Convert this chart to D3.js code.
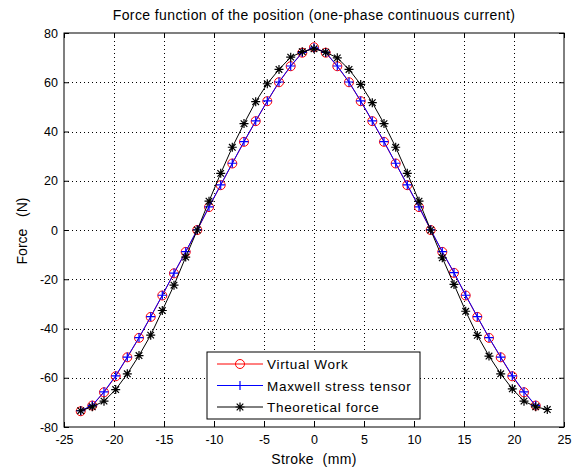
<!DOCTYPE html>
<html lang="en">
<head>
  <meta charset="UTF-8" />
  <title>Force function of the position</title>
  <script src="https://d3js.org/d3.v7.min.js"></script>
  <style>
    body { margin: 0; background: #fff; }
    text { font-family: "Liberation Sans", Arial, sans-serif; }
  </style>
</head>
<body>
  <svg id="chart" width="581" height="469"></svg>

  <script>
    // stroke positions (mm)
    const strokeVW = [-23.33, -22.17, -21.0, -19.83, -18.67, -17.5, -16.33, -15.17, -14.0, -12.83,
      -11.67, -10.5, -9.33, -8.17, -7.0, -5.83, -4.67, -3.5, -2.33, -1.17,
      0, 1.17, 2.33, 3.5, 4.67, 5.83, 7.0, 8.17, 9.33, 10.5,
      11.67, 12.83, 14.0, 15.17, 16.33, 17.5, 18.67, 19.83, 21.0, 22.17];
    const strokeTh = strokeVW.concat([23.33]);

    // forces (N)
    const virtualWork = [-73.6, -71.3, -65.9, -59.4, -51.7, -43.8, -35.3, -26.6, -17.6, -8.9,
      0, 9.3, 18.2, 27.0, 35.8, 44.2, 52.3, 60.0, 66.5, 72.0,
      74.2, 72.0, 66.5, 60.0, 52.3, 44.2, 35.8, 27.0, 18.2, 9.3,
      0, -8.9, -17.4, -26.6, -35.3, -43.8, -51.7, -59.4, -65.9, -71.3];
    const maxwell = [-73.4, -71.2, -65.7, -59.2, -51.6, -43.7, -35.2, -26.5, -17.5, -8.8,
      0.1, 9.4, 18.3, 27.1, 35.9, 44.3, 52.4, 60.1, 66.6, 72.1,
      74.0, 72.1, 66.6, 60.1, 52.4, 44.3, 35.9, 27.1, 18.3, 9.4,
      0.1, -8.8, -17.3, -26.5, -35.2, -43.7, -51.6, -59.2, -65.7, -71.2];
    const theoretical = [-73.4, -71.8, -69.5, -64.8, -58.4, -51.0, -42.7, -32.7, -22.4, -11.0,
      0, 11.7, 23.0, 33.6, 43.2, 52.1, 59.4, 65.2, 70.2, 72.4,
      73.6, 72.2, 69.9, 65.2, 59.1, 51.7, 43.2, 33.6, 23.0, 11.7,
      0, -11.3, -22.1, -33.0, -42.8, -51.2, -58.4, -64.5, -69.5, -71.8, -72.9];

    const xTicks = [-25, -20, -15, -10, -5, 0, 5, 10, 15, 20, 25];
    const yTicks = [-80, -60, -40, -20, 0, 20, 40, 60, 80];
    const seriesNames = ["Virtual Work", "Maxwell stress tensor", "Theoretical force"];

    const margin = { left: 64, right: 17, top: 33, bottom: 42 };
    const width = 581, height = 469;

    const svg = d3.select("#chart");

    const x = d3.scaleLinear().domain([-25, 25]).range([margin.left, width - margin.right]);
    const y = d3.scaleLinear().domain([-80, 80]).range([height - margin.bottom, margin.top]);

    // grid
    const grid = svg.append("g")
      .attr("stroke", "#000")
      .attr("stroke-width", 1)
      .attr("stroke-dasharray", "1,3")
      .attr("shape-rendering", "crispEdges");
    grid.selectAll("line.vx").data(xTicks.slice(1, -1)).join("line")
      .attr("x1", d => Math.round(x(d)) + 0.5).attr("x2", d => Math.round(x(d)) + 0.5)
      .attr("y1", y(80)).attr("y2", y(-80));
    grid.selectAll("line.hy").data(yTicks.slice(1, -1)).join("line")
      .attr("class", "hy")
      .attr("y1", d => Math.round(y(d)) + 0.5).attr("y2", d => Math.round(y(d)) + 0.5)
      .attr("x1", x(-25)).attr("x2", x(25));

    // axes (MATLAB box with inward ticks)
    const fmt = d => String(d);
    function styleAxis(g) {
      g.select(".domain").remove();
      g.selectAll("line").attr("stroke", "#000");
      g.selectAll("text").attr("fill", "#000").attr("font-size", 12.5);
    }
    svg.append("g").attr("transform", `translate(0,${y(-80)})`)
      .call(d3.axisBottom(x).tickValues(xTicks).tickFormat(fmt).tickSizeInner(-5).tickSizeOuter(0).tickPadding(8))
      .call(styleAxis);
    svg.append("g").attr("transform", `translate(0,${y(80)})`)
      .call(d3.axisTop(x).tickValues(xTicks).tickSizeInner(-5).tickSizeOuter(0).tickFormat(""))
      .call(styleAxis);
    svg.append("g").attr("transform", `translate(${x(-25)},0)`)
      .call(d3.axisLeft(y).tickValues(yTicks).tickFormat(fmt).tickSizeInner(-5).tickSizeOuter(0).tickPadding(6))
      .call(styleAxis);
    svg.append("g").attr("transform", `translate(${x(25)},0)`)
      .call(d3.axisRight(y).tickValues(yTicks).tickSizeInner(-5).tickSizeOuter(0).tickFormat(""))
      .call(styleAxis);

    svg.append("rect")
      .attr("x", x(-25)).attr("y", y(80))
      .attr("width", x(25) - x(-25)).attr("height", y(-80) - y(80))
      .attr("fill", "none").attr("stroke", "#000");

    const line = d3.line().x(d => x(d[0])).y(d => y(d[1]));
    const vwPts = strokeVW.map((s, i) => [s, virtualWork[i]]);
    const mxPts = strokeVW.map((s, i) => [s, maxwell[i]]);
    const thPts = strokeTh.map((s, i) => [s, theoretical[i]]);

    // marker painters
    function circleMark(g, color) {
      g.append("circle").attr("r", 4.5).attr("fill", "none").attr("stroke", color).attr("stroke-width", 1);
    }
    function plusMark(g, color) {
      g.append("path").attr("d", "M-4.5,0H4.5M0,-4.5V4.5").attr("stroke", color).attr("stroke-width", 1.2);
    }
    function starMark(g, color) {
      g.append("path").attr("d", "M-4.5,0H4.5M0,-4.5V4.5M-3.3,-3.3L3.3,3.3M-3.3,3.3L3.3,-3.3")
        .attr("stroke", color).attr("stroke-width", 1.2);
    }

    const series = [
      { pts: vwPts, color: "#ff0000", mark: circleMark },
      { pts: mxPts, color: "#0000ff", mark: plusMark },
      { pts: thPts, color: "#000000", mark: starMark }
    ];

    series.forEach(s => {
      svg.append("path").datum(s.pts)
        .attr("d", line).attr("fill", "none")
        .attr("stroke", s.color).attr("stroke-width", 1);
      svg.append("g").selectAll("g").data(s.pts).join("g")
        .attr("transform", d => `translate(${x(d[0])},${y(d[1])})`)
        .each(function () { s.mark(d3.select(this), s.color); });
    });

    // title and labels
    svg.append("text").attr("x", (x(-25) + x(25)) / 2).attr("y", 20)
      .attr("text-anchor", "middle").attr("font-size", 14)
      .attr("letter-spacing", 0.4)
      .text("Force function of the position (one-phase continuous current)");
    svg.append("text").attr("x", (x(-25) + x(25)) / 2).attr("y", 464)
      .attr("text-anchor", "middle").attr("font-size", 14)
      .attr("letter-spacing", 0.4)
      .attr("xml:space", "preserve")
      .text("Stroke  (mm)");
    svg.append("text")
      .attr("transform", `translate(27,${(y(80) + y(-80)) / 2 + 1}) rotate(-90)`)
      .attr("text-anchor", "middle").attr("font-size", 14)
      .attr("xml:space", "preserve")
      .text("Force   (N)");

    // legend
    const lg = svg.append("g").attr("transform", "translate(207,352)");
    lg.append("rect").attr("width", 213).attr("height", 67)
      .attr("fill", "#fff").attr("stroke", "#000");
    series.forEach((s, i) => {
      const row = lg.append("g").attr("transform", `translate(0,${12 + i * 21.5})`);
      row.append("line").attr("x1", 10).attr("x2", 56)
        .attr("stroke", s.color).attr("stroke-width", 1);
      const m = row.append("g").attr("transform", "translate(33,0)");
      s.mark(m, s.color);
      row.append("text").attr("x", 60).attr("y", 5)
        .attr("font-size", 13.5).attr("letter-spacing", 0.7).text(seriesNames[i]);
    });
  </script>
</body>
</html>
